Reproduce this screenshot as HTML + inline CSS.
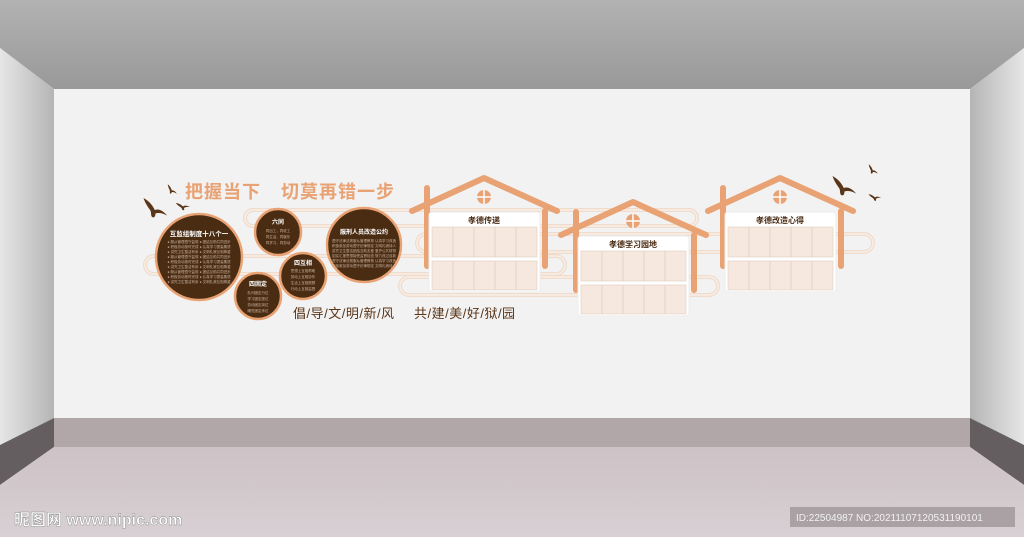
<!DOCTYPE html>
<html><head><meta charset="utf-8"><style>
html,body{margin:0;padding:0;width:1024px;height:537px;overflow:hidden}
svg{display:block}
text{font-family:"Liberation Sans","Noto Sans CJK SC",sans-serif}
</style></head><body>
<svg width="1024" height="537" viewBox="0 0 1024 537" xmlns="http://www.w3.org/2000/svg">
<defs>
<linearGradient id="ceil" x1="0" y1="0" x2="0" y2="1"><stop offset="0" stop-color="#b2b2b2"/><stop offset="1" stop-color="#999"/></linearGradient>
<linearGradient id="lw" x1="0" y1="0" x2="1" y2="0"><stop offset="0" stop-color="#e6e6e6"/><stop offset="1" stop-color="#b5b5b5"/></linearGradient>
<linearGradient id="rw" x1="1" y1="0" x2="0" y2="0"><stop offset="0" stop-color="#e6e6e6"/><stop offset="1" stop-color="#b5b5b5"/></linearGradient>
<linearGradient id="fl" x1="0" y1="0" x2="0" y2="1"><stop offset="0" stop-color="#cdc2c6"/><stop offset="1" stop-color="#d8d0d4"/></linearGradient>
<g id="bird"><path d="M-12,-8 C-6,-6 -2,-2 0,1 C3,-1 7,0 12,4 C6,2 3,3 1,4 C2,7 0,9 -2,7 C-3,5 -3,3 -4,2 C-7,-1 -10,-4 -12,-8Z" fill="#5a3517"/></g>
</defs>
<rect width="1024" height="537" fill="#f2f2f2"/>
<polygon points="0,0 1024,0 1024,48 970,89 54,89 0,48" fill="url(#ceil)"/>
<polygon points="0,48 54,89 54,418 0,445" fill="url(#lw)"/>
<polygon points="1024,48 970,89 970,418 1024,445" fill="url(#rw)"/>
<rect x="54" y="89" width="916" height="329" fill="#f2f2f2"/>
<rect x="54" y="418" width="916" height="29" fill="#b1a7a9"/>
<polygon points="0,445 54,418 54,447 0,485" fill="#655e60"/>
<polygon points="1024,445 970,418 970,447 1024,485" fill="#655e60"/>
<polygon points="0,485 54,447 970,447 1024,485 1024,537 0,537" fill="url(#fl)"/>

<!-- pipes -->
<g fill="none" stroke="#efdccd" stroke-width="4">
<rect x="245" y="210" width="452" height="16" rx="8"/>
<rect x="417" y="234" width="456" height="18" rx="9"/>
<rect x="145" y="256" width="420" height="18" rx="9"/>
<rect x="400" y="277" width="318" height="18" rx="9"/>
</g>
<g fill="none" stroke="#f8efe8" stroke-width="1.5">
<rect x="245" y="210" width="452" height="16" rx="8"/>
<rect x="417" y="234" width="456" height="18" rx="9"/>
<rect x="145" y="256" width="420" height="18" rx="9"/>
<rect x="400" y="277" width="318" height="18" rx="9"/>
</g>

<!-- title -->
<text x="185" y="198" font-size="18" font-weight="bold" fill="#e8a273" letter-spacing="1">把握当下</text>
<text x="281" y="198" font-size="18" font-weight="bold" fill="#e8a273" letter-spacing="1">切莫再错一步</text>

<!-- birds -->
<use href="#bird" transform="translate(155,209) scale(1.1) rotate(10)"/>
<use href="#bird" transform="translate(172,190) scale(0.5) rotate(20)"/>
<use href="#bird" transform="translate(183,206) scale(0.55) rotate(-10)"/>
<use href="#bird" transform="translate(844,187) scale(1.1) rotate(10)"/>
<use href="#bird" transform="translate(873,170) scale(0.5) rotate(20)"/>
<use href="#bird" transform="translate(875,197) scale(0.5) rotate(-10)"/>

<!-- circles -->
<g fill="#4a2c13" stroke="#e8a273" stroke-width="2.5">
<circle cx="199" cy="257" r="43"/>
<circle cx="278" cy="232" r="23"/>
<circle cx="364" cy="245" r="37"/>
<circle cx="303" cy="276" r="23"/>
<circle cx="258" cy="296" r="23"/>
</g>
<g fill="#fff" font-weight="bold" text-anchor="middle">
<text x="199" y="236" font-size="6.5">互监组制度十八个一</text>
<text x="278" y="224" font-size="6">六同</text>
<text x="364" y="234" font-size="6">服刑人员改造公约</text>
<text x="303" y="265" font-size="6">四互相</text>
<text x="258" y="286" font-size="6">四固定</text>
</g>
<g fill="#c9b29c" font-size="3.5" text-anchor="middle">
<text x="199" y="243">● 服从管理遵守监规 ● 团结互助共同进步</text>
<text x="199" y="248">● 积极劳动按时完成 ● 认真学习提高素质</text>
<text x="199" y="253">● 讲究卫生整洁有序 ● 文明礼貌互相尊重</text>
<text x="199" y="258">● 服从管理遵守监规 ● 团结互助共同进步</text>
<text x="199" y="263">● 积极劳动按时完成 ● 认真学习提高素质</text>
<text x="199" y="268">● 讲究卫生整洁有序 ● 文明礼貌互相尊重</text>
<text x="199" y="273">● 服从管理遵守监规 ● 团结互助共同进步</text>
<text x="199" y="278">● 积极劳动按时完成 ● 认真学习提高素质</text>
<text x="199" y="283">● 讲究卫生整洁有序 ● 文明礼貌互相尊重</text>
<text x="278" y="232">同出工，同收工</text>
<text x="278" y="238">同生活，同娱乐</text>
<text x="278" y="244">同学习，同劳动</text>
<text x="303" y="272">思想上互相帮助</text>
<text x="303" y="278">劳动上互相协作</text>
<text x="303" y="284">生活上互相照顾</text>
<text x="303" y="290">行动上互相监督</text>
<text x="258" y="294">队列固定行位</text>
<text x="258" y="300">学习固定座位</text>
<text x="258" y="306">劳动固定岗位</text>
<text x="258" y="312">睡觉固定床位</text>
<text x="364" y="242">遵守法律法规服从管理教育 认真学习改造</text>
<text x="364" y="247">积极参加劳动遵守纪律规定 文明礼貌待人</text>
<text x="364" y="252">讲究卫生整洁团结互助友爱 爱护公共财物</text>
<text x="364" y="257">如实汇报思想接受监督检查 努力改过自新</text>
<text x="364" y="262">遵守法律法规服从管理教育 认真学习改造</text>
<text x="364" y="267">积极参加劳动遵守纪律规定 文明礼貌待人</text>
</g>

<text x="293" y="318" font-size="13" fill="#5a3517" letter-spacing="0.5">倡/导/文/明/新/风</text>
<text x="414" y="318" font-size="13" fill="#5a3517" letter-spacing="0.5">共/建/美/好/狱/园</text>

<!-- houses -->
<g id="h1">
<g stroke="#e8a273" stroke-width="6" stroke-linecap="round" stroke-linejoin="round" fill="none">
<polyline points="412,211 484,178 557,211"/>
<line x1="427" y1="188" x2="427" y2="266"/>
<line x1="545" y1="211" x2="545" y2="266"/>
</g>
<circle cx="484" cy="197" r="7" fill="#e8a273"/>
<path d="M484,190V204M477,197H491" stroke="#fff" stroke-width="1.5"/>
<rect x="429" y="212" width="111" height="80" rx="3" fill="#fff" stroke="#ececec"/>
<text x="484" y="223" font-size="8" font-weight="bold" fill="#4a2c13" text-anchor="middle">孝德传递</text>
<rect x="432" y="227" width="105" height="30" fill="#f6e8de" stroke="#e3d3c6" stroke-width="0.7"/>
<rect x="432" y="261" width="105" height="29" fill="#f6e8de" stroke="#e3d3c6" stroke-width="0.7"/>
<path d="M453,227V257M474,227V257M495,227V257M516,227V257M453,261V290M474,261V290M495,261V290M516,261V290" stroke="#e0cdbf" stroke-width="0.8"/>
</g>
<use href="#h1" transform="translate(149,24)"/>
<g>
<g stroke="#e8a273" stroke-width="6" stroke-linecap="round" stroke-linejoin="round" fill="none">
<polyline points="708,211 780,178 853,211"/>
<line x1="723" y1="188" x2="723" y2="266"/>
<line x1="841" y1="211" x2="841" y2="266"/>
</g>
<circle cx="780" cy="197" r="7" fill="#e8a273"/>
<path d="M780,190V204M773,197H787" stroke="#fff" stroke-width="1.5"/>
<rect x="725" y="212" width="111" height="80" rx="3" fill="#fff" stroke="#ececec"/>
<text x="780" y="223" font-size="8" font-weight="bold" fill="#4a2c13" text-anchor="middle">孝德改造心得</text>
<rect x="728" y="227" width="105" height="30" fill="#f6e8de" stroke="#e3d3c6" stroke-width="0.7"/>
<rect x="728" y="261" width="105" height="29" fill="#f6e8de" stroke="#e3d3c6" stroke-width="0.7"/>
<path d="M749,227V257M770,227V257M791,227V257M812,227V257M749,261V290M770,261V290M791,261V290M812,261V290" stroke="#e0cdbf" stroke-width="0.8"/>
</g>
<rect x="590" y="238" width="86" height="9" fill="#fff"/>
<text x="633" y="247" font-size="8" font-weight="bold" fill="#4a2c13" text-anchor="middle">孝德学习园地</text>

<!-- watermark -->
<text x="14" y="525" font-size="16" font-weight="bold" fill="#fff" stroke="#888" stroke-width="0.4">昵图网 www.nipic.com</text>
<rect x="790" y="507" width="225" height="20" fill="#a9a1a3"/>
<text x="796" y="521" font-size="10" fill="#f2f2f2">ID:22504987 NO:20211107120531190101</text>
</svg>
</body></html>
